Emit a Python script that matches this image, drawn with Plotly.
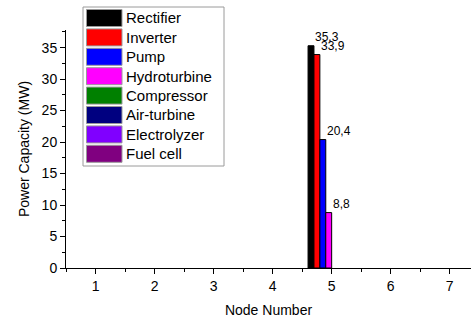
import plotly.graph_objects as go

nodes = [1, 2, 3, 4, 5, 6, 7]
series_names = ["Rectifier", "Inverter", "Pump", "Hydroturbine", "Compressor",
                "Air-turbine", "Electrolyzer", "Fuel cell"]
colors = ["#000000", "#FF0000", "#0000FF", "#FF00FF", "#008000",
          "#000080", "#8000FF", "#800080"]
rectifier = [0, 0, 0, 0, 35.3, 0, 0]
inverter = [0, 0, 0, 0, 33.9, 0, 0]
pump = [0, 0, 0, 0, 20.4, 0, 0]
hydroturbine = [0, 0, 0, 0, 8.8, 0, 0]
compressor = [0, 0, 0, 0, 0, 0, 0]
air_turbine = [0, 0, 0, 0, 0, 0, 0]
electrolyzer = [0, 0, 0, 0, 0, 0, 0]
fuel_cell = [0, 0, 0, 0, 0, 0, 0]
values = [rectifier, inverter, pump, hydroturbine, compressor,
          air_turbine, electrolyzer, fuel_cell]
y_ticks = [0, 5, 10, 15, 20, 25, 30, 35]

W, H = 471, 320
ML, MR, MT, MB = 66, 0, 30, 52
pw, ph = W - ML - MR, H - MT - MB

def px_x(x):
    return (x - ML) / pw

def px_y(y):
    return (H - MB - y) / ph

fig = go.Figure()
n = len(series_names)
bargap = 0.2
bw = (1 - bargap) / n
annotations = []
for i, (name, col, vals) in enumerate(zip(series_names, colors, values)):
    fig.add_trace(go.Bar(x=nodes, y=vals, name=name, marker_color=col,
                         marker_line_color="#000000",
                         marker_line_width=[1 if v > 0 else 0 for v in vals],
                         showlegend=False))
    off = -(1 - bargap) / 2 + bw * (i + 0.5)
    for xv, yv in zip(nodes, vals):
        if yv > 0:
            annotations.append(dict(x=xv + off, y=yv, xref="x", yref="y",
                                    text=f"{yv:.1f}".replace(".", ","),
                                    showarrow=False, xanchor="left", yanchor="bottom",
                                    xshift=2, yshift=0,
                                    font=dict(size=12, color="#000000")))

shapes = []
# manual legend
lx0, ly0, lx1, ly1 = 83, 7, 224, 166
shapes.append(dict(type="rect", xref="paper", yref="paper",
                   x0=px_x(lx0), x1=px_x(lx1), y0=px_y(ly1), y1=px_y(ly0),
                   line=dict(color="#9a9a9a", width=1), fillcolor="white"))
pitch = 19.4
for i, (name, col) in enumerate(zip(series_names, colors)):
    top = 9.5 + i * pitch
    shapes.append(dict(type="rect", xref="paper", yref="paper",
                       x0=px_x(86.5), x1=px_x(122), y0=px_y(top + 17), y1=px_y(top),
                       line=dict(color="#9a9a9a", width=1), fillcolor=col))
    annotations.append(dict(x=px_x(124), y=px_y(top + 8.5), xref="paper", yref="paper",
                            text=name, showarrow=False, xanchor="left", yanchor="middle",
                            font=dict(size=15, color="#000000")))

fig.update_layout(
    width=W, height=H,
    margin=dict(l=ML, r=MR, t=MT, b=MB, pad=0),
    plot_bgcolor="white", paper_bgcolor="white",
    barmode="group", bargap=bargap, bargroupgap=0,
    font=dict(family="Liberation Sans, Arial, sans-serif", size=14, color="#000000"),
    shapes=shapes, annotations=annotations,
    xaxis=dict(range=[0.5, 7.36], tickvals=nodes, ticktext=[str(v) for v in nodes],
               showgrid=False, zeroline=False, showline=True, linecolor="#000000",
               linewidth=1, ticks="outside", ticklen=5, tickcolor="#000000",
               minor=dict(dtick=0.5, tick0=0.5, ticks="outside", ticklen=3,
                          tickcolor="#000000", showgrid=False),
               title=dict(text="Node Number", font=dict(size=14), standoff=12),
               tickfont=dict(size=14)),
    yaxis=dict(range=[0, 37.8], tickvals=y_ticks,
               showgrid=False, zeroline=False, showline=True, linecolor="#000000",
               linewidth=1, ticks="outside", ticklen=5, tickcolor="#000000",
               minor=dict(dtick=2.5, tick0=0, ticks="outside", ticklen=3,
                          tickcolor="#000000", showgrid=False),
               title=dict(text="Power Capacity (MW)", font=dict(size=14), standoff=8),
               tickfont=dict(size=14)),
)

fig.write_html("out.html")
